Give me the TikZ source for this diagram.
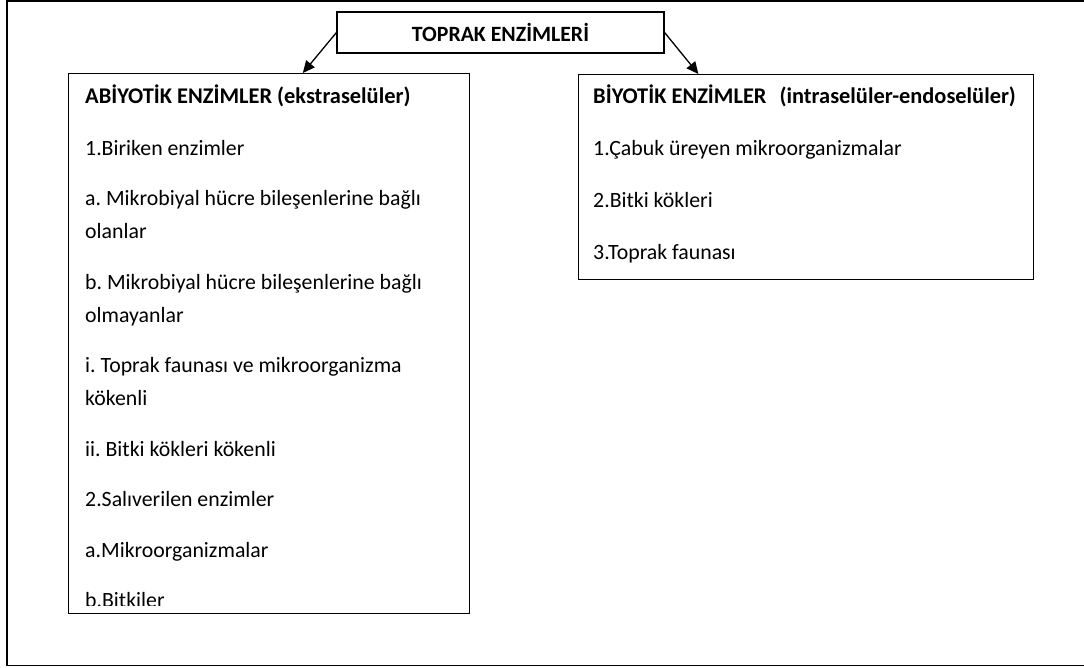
\documentclass[tikz,border=0pt]{standalone}
\usepackage{fontspec}
\setmainfont{Carlito}
\usetikzlibrary{arrows.meta,positioning,calc}
\frenchspacing

\begin{document}
\begin{tikzpicture}[x=1pt,y=-1pt,
    kutu/.style={draw,line width=1.1pt,rectangle,inner sep=0pt,anchor=north west},
    satir/.style={anchor=base west,inner sep=0pt,font=\fontsize{21.8}{26}\selectfont},
    baslik/.style={satir,font=\fontsize{22.4}{26}\selectfont\bfseries},
    ok/.style={line width=1.3pt,-{Triangle[length=12pt,width=11pt]}}]
      \useasboundingbox (0,0) rectangle (1084,667);
      \draw[line width=1.4pt] (1090,1) -- (7,1) -- (7,665.5) -- (1090,665.5);

      \node[kutu,anchor=center,minimum width=327pt,minimum height=41pt,
        font=\fontsize{21.8}{26}\selectfont\bfseries] (toprak) at (500.5,32.5) {TOPRAK ENZİMLERİ};
      \node[kutu,minimum width=401pt,minimum height=540pt] (abio) at (68,73) {};
      \node[kutu,minimum width=455pt,minimum height=205pt] (bio) at (578,74) {};

      \draw[ok] (toprak.west) -- ($(abio.north west)!0.584!(abio.north east)$);
      \draw[ok] (toprak.east) -- ($(bio.north west)!0.264!(bio.north east)$);

      \node[baslik] (abiobas) at (85,103) {ABİYOTİK ENZİMLER (ekstraselüler)};
      \begin{scope}
        \clip (68,73) rectangle (469,605.5);
        \foreach \y/\t [count=\i] in {155/1.Biriken enzimler,
            205.5/a. Mikrobiyal hücre bileşenlerine bağlı, 238.5/olanlar,
            289/b. Mikrobiyal hücre bileşenlerine bağlı, 322/olmayanlar,
            372.5/i. Toprak faunası ve mikroorganizma, 405.5/kökenli,
            456/ii. Bitki kökleri kökenli, 506.5/2.Salıverilen enzimler,
            557/a.Mikroorganizmalar, 607.5/b.Bitkiler}{
          \node[satir] (sol\i) at (85,\y) {\t};
        }
      \end{scope}

      \node[baslik] (biobas) at (593,103) {BİYOTİK ENZİMLER\hspace{8pt} (intraselüler-endoselüler)};
      \foreach \y/\t [count=\i] in {155/1.Çabuk üreyen mikroorganizmalar,
          207/2.Bitki kökleri, 259/3.Toprak faunası}{
        \node[satir] (sag\i) at (593,\y) {\t};
      }
    \end{tikzpicture}
\end{document}
